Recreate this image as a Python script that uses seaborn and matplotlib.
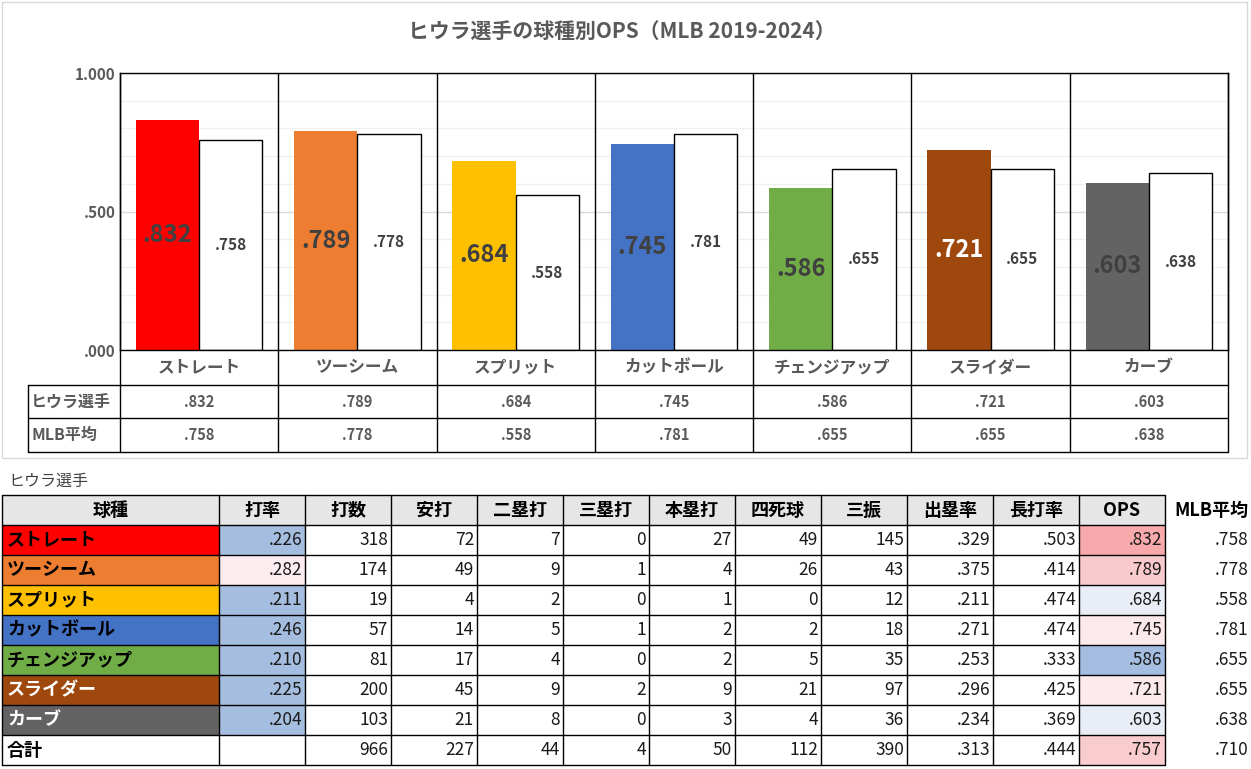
import matplotlib
matplotlib.use('Agg')
import numpy as np
import pandas as pd
import seaborn as sns
import matplotlib.pyplot as plt
from matplotlib.patches import Rectangle
from matplotlib.ticker import MultipleLocator, FixedLocator

# ---------------- data ----------------
pitches = ['ストレート', 'ツーシーム', 'スプリット', 'カットボール', 'チェンジアップ', 'スライダー', 'カーブ']
hiura_ops = [0.832, 0.789, 0.684, 0.745, 0.586, 0.721, 0.603]
mlb_ops = [0.758, 0.778, 0.558, 0.781, 0.655, 0.655, 0.638]
series_names = ['ヒウラ選手', 'MLB平均']
title = 'ヒウラ選手の球種別OPS（MLB 2019-2024）'
yticks = [0.0, 0.5, 1.0]
ytick_labels = ['.000', '.500', '1.000']

avg = [0.226, 0.282, 0.211, 0.246, 0.210, 0.225, 0.204]
ab = [318, 174, 19, 57, 81, 200, 103]
hits = [72, 49, 4, 14, 17, 45, 21]
doubles = [7, 9, 2, 5, 4, 9, 8]
triples = [0, 1, 0, 1, 0, 2, 0]
hr = [27, 4, 1, 2, 2, 9, 3]
bb = [49, 26, 0, 2, 5, 21, 4]
so = [145, 43, 12, 18, 35, 97, 36]
obp = [0.329, 0.375, 0.211, 0.271, 0.253, 0.296, 0.234]
slg = [0.503, 0.414, 0.474, 0.474, 0.333, 0.425, 0.369]
total_label = '合計'
total = {'ab': 966, 'hits': 227, 'doubles': 44, 'triples': 4, 'hr': 50, 'bb': 112,
         'so': 390, 'obp': 0.313, 'slg': 0.444, 'ops': 0.757, 'mlb': 0.710}
headers = ['球種', '打率', '打数', '安打', '二塁打', '三塁打', '本塁打', '四死球', '三振', '出塁率', '長打率', 'OPS']
table_title = 'ヒウラ選手'

# ---------------- style ----------------
pitch_colors = ['#FF0000', '#ED7D31', '#FFC000', '#4472C4', '#70AD47', '#9E480E', '#636363']
pitch_text_colors = ['black', 'black', 'black', 'black', 'black', 'white', 'white']
bar_label_colors = ['#404040', '#404040', '#404040', '#404040', '#404040', 'white', '#404040']
avg_bg = ['#A5BEE0', '#FDECEF', '#A5BEE0', '#A5BEE0', '#A5BEE0', '#A5BEE0', '#A5BEE0']
ops_bg = ['#F8A9AC', '#F9CACD', '#E9EEF6', '#FCE9EC', '#A4BDE0', '#FCEAEC', '#E9EEF6', '#F9CCCE']

sns.set_style('white')
plt.rcParams['font.family'] = ['Noto Sans CJK JP', 'DejaVu Sans']


def fmt3(v):
    s = f'{v:.3f}'
    return s[1:] if s.startswith('0') else s


W, H = 1251, 769
fig = plt.figure(figsize=(W / 100, H / 100), dpi=100)
fig.patch.set_facecolor('white')

ov = fig.add_axes([0, 0, 1, 1])
ov.set_xlim(0, W)
ov.set_ylim(H, 0)
ov.axis('off')
ov.add_patch(Rectangle((2, 2), 1245, 456, fill=False, edgecolor='#D9D9D9', lw=1))
ov.text(622, 32, title, ha='center', va='center', fontsize=15, fontweight='bold', color='#595959')

# ---------------- bar chart ----------------
L, R, T, B = 120, 1228, 73, 350
ax = fig.add_axes([L / W, 1 - B / H, (R - L) / W, (B - T) / H])
df = pd.DataFrame({
    'pitch': pitches * 2,
    'series': [series_names[0]] * len(pitches) + [series_names[1]] * len(pitches),
    'ops': hiura_ops + mlb_ops,
})
sns.barplot(data=df, x='pitch', y='ops', hue='series', order=pitches, hue_order=series_names,
            palette={series_names[0]: '#888888', series_names[1]: 'white'},
            width=0.8, gap=0, legend=False, ax=ax, saturation=1)
for p, c in zip(ax.containers[0], pitch_colors):
    p.set_facecolor(c)
    p.set_edgecolor('none')
for p in ax.containers[1]:
    p.set_facecolor('white')
    p.set_edgecolor('black')
    p.set_linewidth(1)

t1 = ax.bar_label(ax.containers[0], labels=[fmt3(v) for v in hiura_ops], label_type='center',
                  fontsize=17, fontweight='bold')
for t, c in zip(t1, bar_label_colors):
    t.set_color(c)
ax.bar_label(ax.containers[1], labels=[fmt3(v) for v in mlb_ops], label_type='center',
             fontsize=11, fontweight='bold', color='#404040')

ax.set_xlim(-0.5, len(pitches) - 0.5)
ax.set_ylim(0, 1)
ax.yaxis.set_major_locator(FixedLocator(yticks))
ax.set_yticklabels(ytick_labels, fontsize=11, fontweight='bold', color='#595959')
ax.yaxis.set_minor_locator(MultipleLocator(0.1))
ax.grid(axis='y', which='major', color='#D9D9D9', lw=1)
ax.grid(axis='y', which='minor', color='#F0F0F0', lw=1)
ax.grid(axis='x', visible=False)
ax.set_axisbelow(True)
ax.tick_params(axis='y', length=0, pad=3)
ax.tick_params(axis='y', which='minor', length=0)
ax.tick_params(axis='x', length=0, pad=6)
ax.set_xticks(range(len(pitches)))
ax.set_xticklabels(pitches, fontsize=12, fontweight='bold', color='#595959')
ax.set_xlabel('')
ax.set_ylabel('')
for s in ax.spines.values():
    s.set_visible(True)
    s.set_color('black')
    s.set_linewidth(1)

# chart data table
tr = ax.get_xaxis_transform()
unit = (R - L) / len(pitches)
xl = -0.5 - (L - 28) / unit
def ya(py):
    return (B - py) / (B - T)
kw = dict(transform=tr, clip_on=False, color='black', lw=1)
for py in (385, 418, 452):
    ax.plot([xl, len(pitches) - 0.5], [ya(py), ya(py)], **kw)
for i in range(len(pitches) + 1):
    xv = i - 0.5
    ax.plot([xv, xv], [1, ya(452)], **kw)
ax.plot([xl, xl], [ya(385), ya(452)], **kw)
for row_y, name, vals in ((401.5, series_names[0], hiura_ops), (435, series_names[1], mlb_ops)):
    ax.text(xl + 0.02, ya(row_y), name, transform=tr, ha='left', va='center',
            fontsize=11.5, fontweight='bold', color='#595959')
    for i, v in enumerate(vals):
        ax.text(i, ya(row_y), fmt3(v), transform=tr, ha='center', va='center',
                fontsize=10.5, fontweight='bold', color='#595959')

# ---------------- lower table ----------------
col_edges = [2, 219, 305, 391, 477, 563, 649, 735, 821, 907, 993, 1079, 1165]
row_edges = [495 + 30 * i for i in range(10)]
ov.text(8, 481, table_title, ha='left', va='center', fontsize=11.5, color='#404040')

# backgrounds
for j in range(len(headers)):
    ov.add_patch(Rectangle((col_edges[j], row_edges[0]), col_edges[j + 1] - col_edges[j],
                           row_edges[1] - row_edges[0], facecolor='#E7E6E6', edgecolor='none'))
for i in range(len(pitches)):
    y0 = row_edges[i + 1]
    ov.add_patch(Rectangle((col_edges[0], y0), col_edges[1] - col_edges[0], 30,
                           facecolor=pitch_colors[i], edgecolor='none'))
    ov.add_patch(Rectangle((col_edges[1], y0), col_edges[2] - col_edges[1], 30,
                           facecolor=avg_bg[i], edgecolor='none'))
for i in range(len(pitches) + 1):
    y0 = row_edges[i + 1]
    ov.add_patch(Rectangle((col_edges[11], y0), col_edges[12] - col_edges[11], 30,
                           facecolor=ops_bg[i], edgecolor='none'))
# grid lines
for y in row_edges:
    ov.plot([col_edges[0], col_edges[-1]], [y, y], color='black', lw=1)
for x in col_edges:
    ov.plot([x, x], [row_edges[0], row_edges[-1]], color='black', lw=1)

# header text
for j, h in enumerate(headers):
    ov.text((col_edges[j] + col_edges[j + 1]) / 2, (row_edges[0] + row_edges[1]) / 2, h,
            ha='center', va='center', fontsize=13, fontweight='bold', color='black')
ov.text(1248, (row_edges[0] + row_edges[1]) / 2, 'MLB平均', ha='right', va='center',
        fontsize=13, fontweight='bold', color='black')

rows = []
for i in range(len(pitches)):
    rows.append([fmt3(avg[i]), str(ab[i]), str(hits[i]), str(doubles[i]), str(triples[i]),
                 str(hr[i]), str(bb[i]), str(so[i]), fmt3(obp[i]), fmt3(slg[i]),
                 fmt3(hiura_ops[i]), fmt3(mlb_ops[i])])
rows.append(['', str(total['ab']), str(total['hits']), str(total['doubles']), str(total['triples']),
             str(total['hr']), str(total['bb']), str(total['so']), fmt3(total['obp']),
             fmt3(total['slg']), fmt3(total['ops']), fmt3(total['mlb'])])
names = pitches + [total_label]
tcols = pitch_text_colors + ['black']
for i, (nm, row) in enumerate(zip(names, rows)):
    yc = (row_edges[i + 1] + row_edges[i + 2]) / 2
    ov.text(col_edges[0] + 5, yc, nm, ha='left', va='center', fontsize=13,
            fontweight='bold', color=tcols[i])
    for j, val in enumerate(row):
        xr = col_edges[j + 2] - 3 if j + 2 < len(col_edges) else 1248
        ov.text(xr, yc, val, ha='right', va='center', fontsize=12.5, color='#1A1A1A')

fig.savefig('out.png', dpi=100)
